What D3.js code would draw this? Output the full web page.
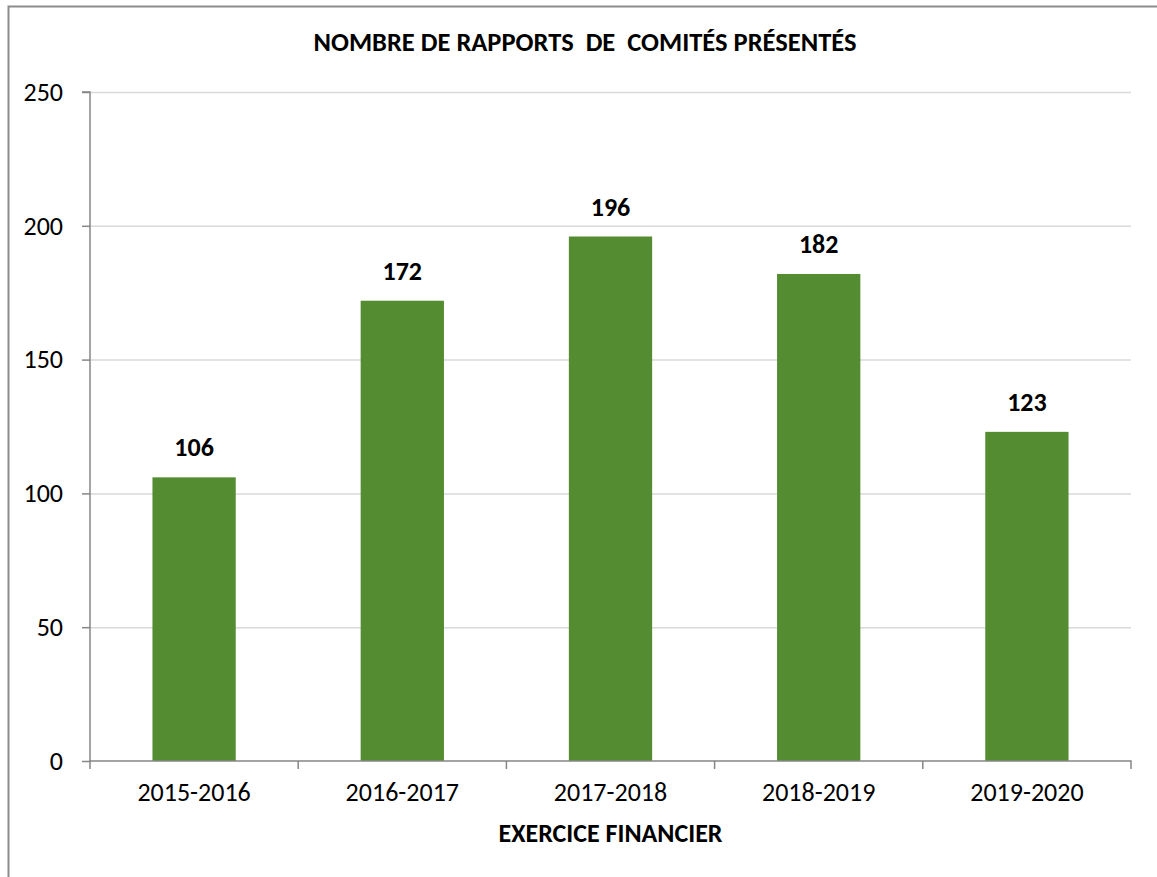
<!DOCTYPE html>
<html><head><meta charset="utf-8">
<script src="https://cdn.jsdelivr.net/npm/d3@7"></script>
<style>body{margin:0;background:#fff}svg{display:block}text{font-family:Carlito,Calibri,Lato,sans-serif}</style>
</head><body>
<script>
const categories = ["2015-2016","2016-2017","2017-2018","2018-2019","2019-2020"];
const values = [106,172,196,182,123];
const yTicks = [0,50,100,150,200,250];
const title = "NOMBRE DE RAPPORTS\u00a0\u00a0DE\u00a0\u00a0COMITÉS PRÉSENTÉS";
const xTitle = "EXERCICE FINANCIER";

const W=1157,H=877;
const svg=d3.select("body").append("svg").attr("width",W).attr("height",H);
svg.append("path").attr("d","M8.5,877 V6.5 H1157").attr("fill","none").attr("stroke","#8c8c8c").attr("stroke-width",2);

const pL=90,pR=1131,pT=92,pB=761;
const x=d3.scaleBand().domain(categories).range([pL,pR]).paddingInner(0.6).paddingOuter(0.3);
const xb=d3.scaleBand().domain(categories).range([pL,pR]);
const y=d3.scaleLinear().domain([0,250]).range([pB,pT]);
const FONT="Carlito,Calibri,Lato,sans-serif";

svg.append("g").selectAll("line").data(yTicks.filter(d=>d>0)).join("line")
 .attr("x1",pL).attr("x2",pR).attr("y1",d=>y(d)+0.5).attr("y2",d=>y(d)+0.5)
 .attr("stroke","#d9d9d9").attr("stroke-width",1.5);

svg.append("g").selectAll("rect").data(values).join("rect")
 .attr("x",(d,i)=>x(categories[i])).attr("width",x.bandwidth())
 .attr("y",d=>y(d)).attr("height",d=>y(0)-y(d)).attr("fill","#548c31");

svg.append("g").selectAll("text").data(values).join("text")
 .attr("x",(d,i)=>x(categories[i])+x.bandwidth()/2).attr("y",d=>y(d)-21)
 .attr("text-anchor","middle").attr("font-weight","bold").attr("font-size",26).attr("fill","#000").text(d=>d);

const ya=svg.append("g").attr("transform",`translate(${pL},0)`)
 .call(d3.axisLeft(y).tickValues(yTicks).tickSize(8).tickPadding(19));
ya.select(".domain").attr("stroke","#868686").attr("stroke-width",1.5).attr("d",`M-8,${pT}H0V${pB}`);
ya.selectAll(".tick line").attr("stroke","#868686").attr("stroke-width",1.5);
ya.selectAll(".tick text").attr("font-size",26).attr("fill","#000").style("font-family",FONT);

const xa=svg.append("g").attr("transform",`translate(0,${pB})`)
 .call(d3.axisBottom(xb).tickSize(0).tickPadding(22));
xa.select(".domain").attr("stroke","#868686").attr("stroke-width",1.5).attr("d",`M${pL},8V0H${pR}V8`);
xa.selectAll(".tick text").attr("font-size",26).attr("fill","#000").style("font-family",FONT);
svg.append("g").selectAll("line").data(categories.slice(1)).join("line")
 .attr("x1",d=>xb(d)).attr("x2",d=>xb(d)).attr("y1",pB).attr("y2",pB+8)
 .attr("stroke","#868686").attr("stroke-width",1.5);

svg.append("text").attr("x",585).attr("y",51).attr("text-anchor","middle").attr("font-weight","bold").attr("font-size",26.5).text(title);
svg.append("text").attr("x",(pL+pR)/2).attr("y",842).attr("text-anchor","middle").attr("font-weight","bold").attr("font-size",26).text(xTitle);
</script>
</body></html>
